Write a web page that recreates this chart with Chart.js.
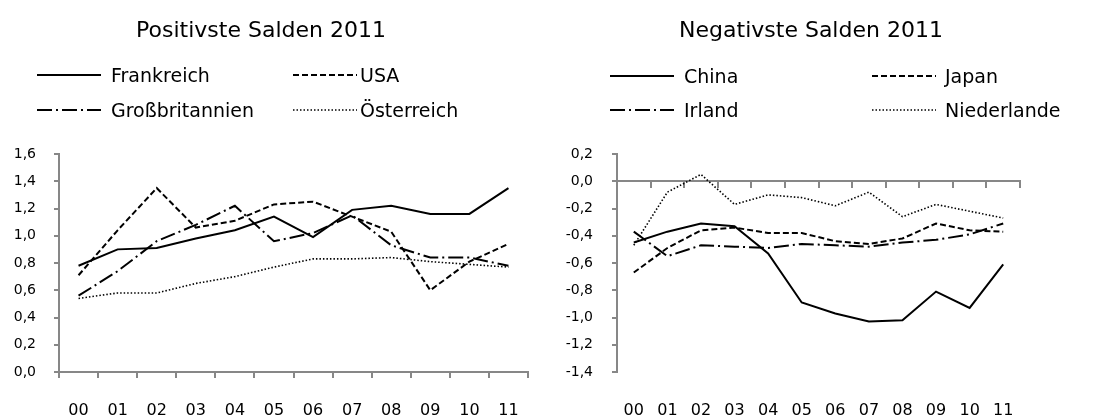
<!DOCTYPE html>
<html>
<head>
<meta charset="utf-8">
<script src="https://cdn.jsdelivr.net/npm/chart.js@4.4.1/dist/chart.umd.min.js"></script>
<style>
  body { margin: 0; background: #fff; }
  .box { position: absolute; top: 0; width: 549px; height: 417px; }
</style>
</head>
<body>
<div class="box" style="left:0"><canvas id="chartPos"></canvas></div>
<div class="box" style="left:550px"><canvas id="chartNeg"></canvas></div>
<script>
// years 2000-2011
const years = ["00", "01", "02", "03", "04", "05", "06", "07", "08", "09", "10", "11"];

// positivste Salden
const frankreich = [0.78, 0.90, 0.91, 0.98, 1.04, 1.14, 0.99, 1.19, 1.22, 1.16, 1.16, 1.35];
const usa = [0.71, 1.04, 1.35, 1.06, 1.11, 1.23, 1.25, 1.14, 1.03, 0.60, 0.81, 0.94];
const grossbritannien = [0.56, 0.74, 0.96, 1.08, 1.22, 0.96, 1.02, 1.15, 0.93, 0.84, 0.84, 0.78];
const oesterreich = [0.54, 0.58, 0.58, 0.65, 0.70, 0.77, 0.83, 0.83, 0.84, 0.81, 0.79, 0.77];

// negativste Salden
const china = [-0.45, -0.37, -0.31, -0.33, -0.53, -0.89, -0.97, -1.03, -1.02, -0.81, -0.93, -0.61];
const japan = [-0.67, -0.49, -0.36, -0.34, -0.38, -0.38, -0.44, -0.46, -0.42, -0.31, -0.36, -0.37];
const irland = [-0.37, -0.55, -0.47, -0.48, -0.49, -0.46, -0.47, -0.48, -0.45, -0.43, -0.39, -0.31];
const niederlande = [-0.47, -0.08, 0.05, -0.17, -0.10, -0.12, -0.18, -0.08, -0.26, -0.17, -0.22, -0.27];

const FONT = "'DejaVu Sans', sans-serif";
const GREY = "#878787";

const SOLID = [];
const DASH = [6, 3];
const DASHDOT = [15, 4, 2, 4];
const DOT = [1.5, 2];

function line(label, data, dash, width) {
  return {
    label: label, data: data,
    borderColor: "#000", borderWidth: width || 2, borderDash: dash,
    pointRadius: 0, fill: false, tension: 0
  };
}

// title + legend in two columns, drawn at fixed spots
const headerPlugin = {
  id: "header",
  afterDraw(chart, args, opts) {
    const c = chart.ctx;
    c.save();
    c.fillStyle = "#000";
    c.font = "22px " + FONT;
    c.textAlign = "center";
    c.textBaseline = "alphabetic";
    c.fillText(opts.title, opts.titleX, 37);

    c.font = "19px " + FONT;
    c.textAlign = "left";
    chart.data.datasets.forEach((ds, i) => {
      const col = i % 2, row = Math.floor(i / 2);
      const y = opts.rowY[row];
      c.beginPath();
      c.strokeStyle = "#000";
      c.lineWidth = ds.borderWidth;
      c.setLineDash(ds.borderDash);
      c.moveTo(opts.lineX[col], y);
      c.lineTo(opts.lineX[col] + opts.lineLen, y);
      c.stroke();
      c.setLineDash([]);
      c.fillText(ds.label, opts.textX[col], y + 7);
    });
    c.restore();
  }
};

function yFmt(v) {
  return v.toFixed(1).replace(".", ",").replace("-0,0", "0,0");
}

// positive chart
new Chart(document.getElementById("chartPos"), {
  type: "line",
  data: {
    labels: years,
    datasets: [
      line("Frankreich", frankreich, SOLID),
      line("USA", usa, DASH),
      line("Großbritannien", grossbritannien, DASHDOT),
      line("Österreich", oesterreich, DOT, 1.6)
    ]
  },
  plugins: [headerPlugin],
  options: {
    responsive: true, maintainAspectRatio: false, animation: false,
    layout: { padding: { top: 154, right: 21, left: 0, bottom: 0 } },
    plugins: {
      legend: { display: false }, title: { display: false }, tooltip: { enabled: false },
      header: { title: "Positivste Salden 2011", titleX: 261, lineX: [37, 293], lineLen: 64, textX: [111, 360], rowY: [75, 110] }
    },
    scales: {
      x: {
        offset: true,
        grid: { offset: true, drawOnChartArea: false, tickLength: 6, color: GREY, lineWidth: 2 },
        border: { color: GREY, width: 2 },
        ticks: { color: "#000", font: { family: FONT, size: 16 }, padding: 23, maxRotation: 0, autoSkip: false },
        afterFit: s => { s.height = 45; }
      },
      y: {
        min: 0, max: 1.6,
        grid: { drawOnChartArea: false, tickLength: 5, color: GREY, lineWidth: 2 },
        border: { color: GREY, width: 2 },
        ticks: { stepSize: 0.2, color: "#000", font: { family: FONT, size: 14 }, padding: 18, callback: yFmt },
        afterFit: s => { s.width = 59; }
      }
    }
  }
});

// negative chart
new Chart(document.getElementById("chartNeg"), {
  type: "line",
  data: {
    labels: years,
    datasets: [
      line("China", china, SOLID),
      line("Japan", japan, DASH),
      line("Irland", irland, DASHDOT),
      line("Niederlande", niederlande, DOT, 1.6)
    ]
  },
  plugins: [headerPlugin],
  options: {
    responsive: true, maintainAspectRatio: false, animation: false,
    layout: { padding: { top: 154, right: 79, left: 0, bottom: 0 } },
    plugins: {
      legend: { display: false }, title: { display: false }, tooltip: { enabled: false },
      header: { title: "Negativste Salden 2011", titleX: 261, lineX: [60, 322], lineLen: 64, textX: [134, 395], rowY: [76, 110] }
    },
    scales: {
      x: {
        offset: true,
        grid: { display: false, drawTicks: false, tickLength: 0 },
        border: { display: false },
        ticks: { color: "#000", font: { family: FONT, size: 16 }, padding: 29, maxRotation: 0, autoSkip: false },
        afterFit: s => { s.height = 45; }
      },
      // axis line through zero with tick marks, no labels
      xZero: {
        type: "category", position: { y: 0 }, offset: true,
        grid: { offset: true, drawOnChartArea: false, tickLength: 6, color: GREY, lineWidth: 2 },
        border: { color: GREY, width: 2 },
        ticks: { display: false }
      },
      y: {
        min: -1.4, max: 0.2,
        grid: { drawOnChartArea: false, tickLength: 5, color: GREY, lineWidth: 2 },
        border: { color: GREY, width: 2 },
        ticks: { stepSize: 0.2, color: "#000", font: { family: FONT, size: 14 }, padding: 19, callback: yFmt },
        afterFit: s => { s.width = 67; }
      }
    }
  }
});
</script>
</body>
</html>
